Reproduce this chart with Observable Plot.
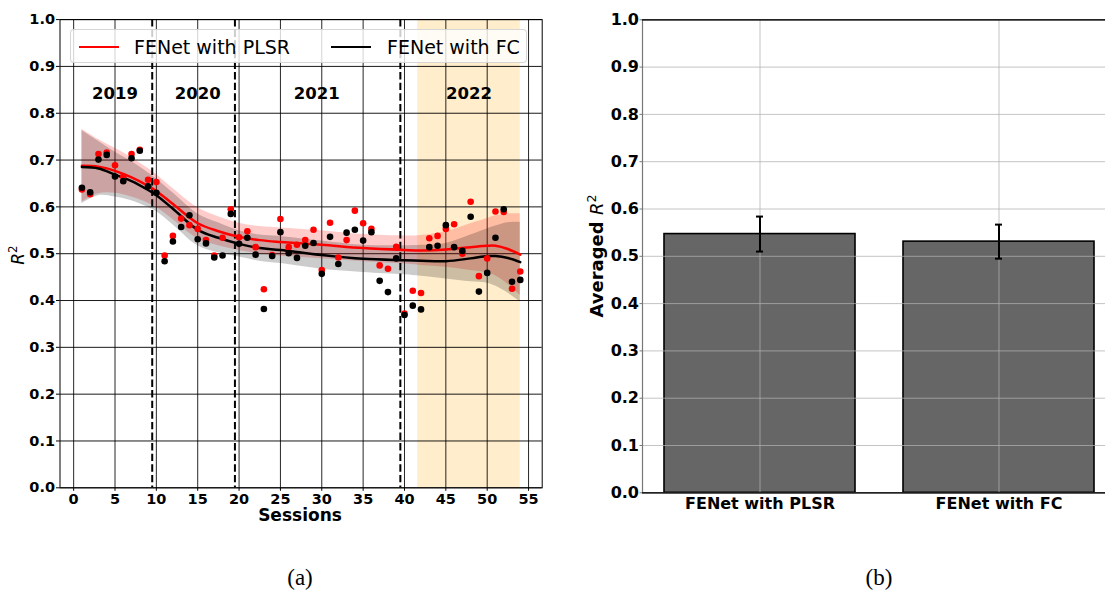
<!DOCTYPE html>
<html>
<head>
<meta charset="utf-8">
<script src="https://cdn.jsdelivr.net/npm/d3@7"></script>
<script src="https://cdn.jsdelivr.net/npm/@observablehq/plot@0.6"></script>
<style>
  html, body { margin: 0; padding: 0; background: #fff; overflow: hidden; }
  #fig { position: relative; width: 1105px; height: 590px; overflow: hidden; font-family: "DejaVu Sans", sans-serif; }
  .panel { position: absolute; top: 0; width: 560px; height: 530px; }
  .panel svg { overflow: visible; max-width: none !important; }
  .txt { position: absolute; white-space: nowrap; line-height: 1; }
  .rot { transform: translate(-50%, -50%) rotate(-90deg); }
  .cap { font-family: "Liberation Serif", "Times New Roman", serif; font-size: 23px; transform: translateX(-50%); }
  .legend { position: absolute; left: 70px; top: 29px; width: 457px; height: 34px; background: rgba(255,255,255,0.8);
            border: 1px solid rgba(204,204,204,0.8); border-radius: 4px; box-sizing: border-box; }
  .legend .key { position: absolute; top: 16px; width: 40px; height: 0; border-top: 2.5px solid; }
  .legend .name { position: absolute; top: 6px; font-size: 19px; }
  sup { font-size: 0.7em; vertical-align: 0.55em; line-height: 0; }
</style>
</head>
<body>
<div id="fig"></div>
<script>
// ---- session-wise R² (panel a) ----
const sessions = d3.range(1, 55);
const plsrR2 = [0.637, 0.627, 0.713, 0.716, 0.689, 0.665, 0.713, 0.722, 0.658, 0.653,
                0.496, 0.538, 0.575, 0.561, 0.553, 0.529, 0.496, 0.534, 0.595, 0.535,
                0.548, 0.514, 0.424, 0.497, 0.574, 0.514, 0.519, 0.529, 0.551, 0.465,
                0.566, 0.492, 0.529, 0.592, 0.565, 0.553, 0.475, 0.468, 0.515, 0.372,
                0.421, 0.416, 0.533, 0.538, 0.553, 0.563, 0.500, 0.611, 0.452, 0.490,
                0.590, 0.589, 0.425, 0.462];
const fcR2 = [0.641, 0.631, 0.701, 0.711, 0.665, 0.655, 0.704, 0.720, 0.644, 0.630,
              0.484, 0.526, 0.557, 0.582, 0.531, 0.522, 0.492, 0.496, 0.585, 0.521,
              0.534, 0.498, 0.382, 0.495, 0.546, 0.501, 0.491, 0.517, 0.523, 0.457,
              0.536, 0.478, 0.545, 0.551, 0.528, 0.546, 0.442, 0.418, 0.490, 0.369,
              0.389, 0.381, 0.514, 0.517, 0.561, 0.514, 0.506, 0.579, 0.419, 0.459,
              0.534, 0.595, 0.440, 0.444];

// smoothed trend with its confidence half-width
const fitSessions = [1, 3, 5, 7, 9, 10, 12, 15, 17.5, 20, 22.5, 25, 30, 35, 40, 42, 45, 48, 50, 51, 52.5, 54];
const plsrFit  = [0.688, 0.686, 0.677, 0.663, 0.645, 0.634, 0.606, 0.565, 0.548, 0.536, 0.529, 0.525, 0.519, 0.512, 0.508, 0.507, 0.509, 0.514, 0.517, 0.517, 0.510, 0.498];
const plsrBand = [0.078, 0.058, 0.048, 0.042, 0.037, 0.035, 0.033, 0.033, 0.031, 0.029, 0.029, 0.030, 0.030, 0.029, 0.030, 0.032, 0.038, 0.050, 0.058, 0.064, 0.075, 0.087];
const fcFit    = [0.685, 0.682, 0.669, 0.655, 0.636, 0.625, 0.596, 0.551, 0.534, 0.521, 0.512, 0.508, 0.497, 0.489, 0.486, 0.485, 0.484, 0.490, 0.495, 0.495, 0.491, 0.482];
const fcBand   = [0.078, 0.058, 0.048, 0.042, 0.037, 0.035, 0.034, 0.034, 0.032, 0.028, 0.028, 0.029, 0.030, 0.029, 0.031, 0.033, 0.038, 0.050, 0.058, 0.064, 0.075, 0.085];

const yearBoundaries = [9.5, 19.5, 39.5];
const years = ["2019", "2020", "2021", "2022"];
const yearCenters = [5, 15, 29.4, 47.8];
const span2022 = [41.6, 54];

const sessionTicks = d3.range(0, 56, 5);
const r2Ticks = d3.range(0, 11).map(i => i / 10);

// ---- averaged R² (panel b) ----
const methods = ["FENet with PLSR", "FENet with FC"];
const meanR2 = [0.547, 0.531];
const errR2 = [0.037, 0.036];

const points = sessions.map((s, i) => ({s, plsr: plsrR2[i], fc: fcR2[i]}));
const fit = fitSessions.map((s, i) => ({
  s, plsr: plsrFit[i], fc: fcFit[i],
  plsrLo: plsrFit[i] - plsrBand[i], plsrHi: plsrFit[i] + plsrBand[i],
  fcLo: fcFit[i] - fcBand[i], fcHi: fcFit[i] + fcBand[i]
}));
const bars = methods.map((m, i) => ({m, v: meanR2[i], lo: meanR2[i] - errR2[i], hi: meanR2[i] + errR2[i]}));
const curve = "catmull-rom";

const fig = document.getElementById("fig");

const left = Plot.plot({
  width: 560, height: 530,
  marginLeft: 59.5, marginRight: 18.3, marginTop: 19.1, marginBottom: 42.7,
  style: {fontFamily: "DejaVu Sans", fontSize: "14.5px", fontWeight: "bold", color: "black", background: "transparent"},
  x: {domain: [-1.65, 56.65]},
  y: {domain: [0, 1]},
  marks: [
    Plot.rect([span2022], {x1: d => d[0], x2: d => d[1], fill: "#ffedcc"}),
    Plot.gridX(sessionTicks, {stroke: "black", strokeOpacity: 0.85, strokeWidth: 1}),
    Plot.gridY(r2Ticks, {stroke: "black", strokeOpacity: 0.9, strokeWidth: 1}),
    Plot.areaY(fit, {x: "s", y1: "plsrLo", y2: "plsrHi", fill: "red", fillOpacity: 0.2, curve}),
    Plot.areaY(fit, {x: "s", y1: "fcLo", y2: "fcHi", fill: "black", fillOpacity: 0.2, curve}),
    Plot.ruleX(yearBoundaries, {stroke: "black", strokeWidth: 2, strokeDasharray: "7.4,3.2"}),
    Plot.lineY(fit, {x: "s", y: "plsr", stroke: "red", strokeWidth: 2.5, curve}),
    Plot.lineY(fit, {x: "s", y: "fc", stroke: "black", strokeWidth: 2.5, curve}),
    Plot.dot(points, {x: "s", y: "plsr", r: 3.3, fill: "red", stroke: "none"}),
    Plot.dot(points, {x: "s", y: "fc", r: 3.3, fill: "black", stroke: "none"}),
    Plot.text(years, {x: (d, i) => yearCenters[i], y: () => 0.842, text: d => d, fontSize: 16.5, fontWeight: "bold", fill: "black"}),
    Plot.frame({stroke: "black", strokeWidth: 1}),
    Plot.axisX(sessionTicks, {tickSize: 3.5, tickPadding: 2.5, label: null, tickFormat: d => String(d)}),
    Plot.axisY(r2Ticks, {tickSize: 3.5, tickPadding: 1.5, label: null, tickFormat: d3.format(".1f")})
  ]
});
const leftBox = document.createElement("div");
leftBox.className = "panel";
leftBox.style.left = "0px";
leftBox.appendChild(left);
fig.appendChild(leftBox);

const right = Plot.plot({
  width: 560, height: 530,
  marginLeft: 82, marginRight: 3, marginTop: 19.3, marginBottom: 37.7,
  style: {fontFamily: "DejaVu Sans", fontSize: "16px", fontWeight: "bold", color: "black", background: "transparent"},
  x: {type: "band", domain: methods, paddingInner: 0.2, paddingOuter: 0.09},
  y: {domain: [0, 1]},
  marks: [
    Plot.barY(bars, {x: "m", y: "v", fill: "#666666", stroke: "black", strokeWidth: 1.6}),
    Plot.gridX(methods, {stroke: "#b0b0b0", strokeOpacity: 0.75, strokeWidth: 1}),
    Plot.gridY(r2Ticks, {stroke: "#b0b0b0", strokeOpacity: 0.75, strokeWidth: 1}),
    Plot.ruleX(bars, {x: "m", y1: "lo", y2: "hi", stroke: "black", strokeWidth: 2}),
    Plot.tickY(bars, {x: "m", y: "lo", stroke: "black", strokeWidth: 2, insetLeft: 92, insetRight: 92}),
    Plot.tickY(bars, {x: "m", y: "hi", stroke: "black", strokeWidth: 2, insetLeft: 92, insetRight: 92}),
    Plot.frame({stroke: "#777", strokeWidth: 1.2}),
    Plot.ruleY([0, 1], {stroke: "black", strokeWidth: 1.2}),
    Plot.axisX({tickSize: 0, tickPadding: 5, label: null}),
    Plot.axisY(r2Ticks, {tickSize: 2.5, tickPadding: 1, stroke: "#777", label: null, tickFormat: d3.format(".1f")})
  ]
});
const rightBox = document.createElement("div");
rightBox.className = "panel";
rightBox.style.left = "560px";
rightBox.appendChild(right);
fig.appendChild(rightBox);

// legend of panel (a)
const legend = document.createElement("div");
legend.className = "legend";
legend.innerHTML =
  '<div class="key" style="left:8px;border-color:red"></div>' +
  '<div class="name" style="left:63px">FENet with PLSR</div>' +
  '<div class="key" style="left:260px;border-color:black"></div>' +
  '<div class="name" style="left:316px">FENet with FC</div>';
fig.appendChild(legend);

// axis titles and captions
function addText(html, cls, x, y, style) {
  const el = document.createElement("div");
  el.className = "txt " + cls;
  el.style.left = x + "px";
  el.style.top = y + "px";
  Object.assign(el.style, style || {});
  el.innerHTML = html;
  fig.appendChild(el);
}
addText("Sessions", "", 300, 507, {fontWeight: "bold", fontSize: "17px", transform: "translateX(-50%)"});
addText("<i>R</i><sup>2</sup>", "rot", 18, 255, {fontSize: "17px"});
addText('<b>Averaged </b><i>R</i><sup>2</sup>', "rot", 597, 256, {fontSize: "18px"});
addText("(a)", "cap", 300, 566);
addText("(b)", "cap", 879, 566);
</script>
</body>
</html>
